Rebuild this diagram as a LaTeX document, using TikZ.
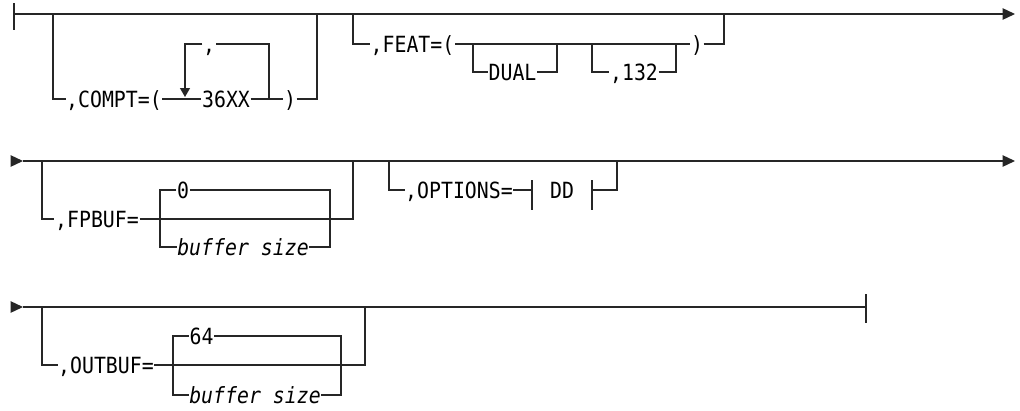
\documentclass[tikz,border=0pt]{standalone}
\usepackage{fontspec}
\newfontfamily\rrmono[FakeStretch=0.89]{DejaVu Sans Mono}
\usetikzlibrary{arrows.meta}
\tikzset{
  rail/.style={line width=1.3pt, draw=black!85, line cap=butt},
  txt/.style={font=\rrmono\fontsize{22.3}{26}\selectfont, inner xsep=0.5pt, inner ysep=0pt,
              text height=16.2pt, text depth=0pt},
  itxt/.style={txt, font=\rrmono\fontsize{22.3}{26}\selectfont\itshape},
  endarrow/.style={-{Triangle[length=12.5pt,width=11.5pt]}},
  looparrow/.style={-{Triangle[length=9pt,width=10pt]}}
}
\begin{document}
\begin{tikzpicture}[x=1pt,y=-1pt]
\useasboundingbox (0,0) rectangle (1020,410);

% ---------------- Row 1 ----------------
\coordinate (s1) at (14,14);
\coordinate (s1t) at (14,3);
\coordinate (s1b) at (14,30);
\coordinate (e1) at (1015,14);
\draw[rail] (s1t) -- (s1b);
\draw[rail,endarrow] (s1) -- (e1);

% COMPT branch
\coordinate (c1) at (53,14);
\coordinate (c2) at (317,14);
\node[txt] (compt) at (114,99) {,COMPT=(};
\node[txt] (n36) at (226,99) {36XX};
\node[txt] (rp1) at (290,99) {)};
\node[txt] (lcomma) at (209,44) {,};
\coordinate (lr) at (269,99);
\coordinate (ll) at (185,97);
\draw[rail] (c1) |- (compt.west);
\draw[rail] (compt.east) -- (n36.west);
\draw[rail] (n36.east) -- (rp1.west);
\draw[rail] (rp1.east) -| (c2);
\draw[rail] (lr) |- (lcomma.east);
\draw[rail,looparrow] (lcomma.west) -| (ll);

% FEAT branch
\coordinate (f1) at (353,14);
\coordinate (f2) at (724,14);
\node[txt] (feat) at (412.5,44) {,FEAT=(};
\node[txt] (rp2) at (697,44) {)};
\draw[rail] (f1) |- (feat.west);
\draw[rail] (feat.east) -- (rp2.west);
\draw[rail] (rp2.east) -| (f2);
\coordinate (d1) at (473,44);
\coordinate (d2) at (557,44);
\node[txt] (dual) at (512.5,72) {DUAL};
\draw[rail] (d1) |- (dual.west);
\draw[rail] (dual.east) -| (d2);
\coordinate (k1) at (592,44);
\coordinate (k2) at (676,44);
\node[txt] (k132) at (634,72) {,132};
\draw[rail] (k1) |- (k132.west);
\draw[rail] (k132.east) -| (k2);

% ---------------- Row 2 ----------------
\coordinate (a2) at (11,161);
\coordinate (s2) at (23,161);
\coordinate (e2) at (1015,161);
\draw[rail,endarrow] (a2) -- (s2);
\draw[rail,endarrow] (s2) -- (e2);

% FPBUF branch
\coordinate (p1) at (42,161);
\coordinate (p2) at (353,161);
\node[txt] (fpbuf) at (97,219) {,FPBUF=};
\draw[rail] (p1) |- (fpbuf.west);
\draw[rail] (fpbuf.east) -| (p2);
\node[txt] (zero) at (183,190) {0};
\node[itxt] (bs1) at (243,247) {buffer size};
\coordinate (sb1) at (160,247);
\coordinate (sb2) at (330,247);
\draw[rail] (zero.west) -| (sb1) -- (bs1.west);
\draw[rail] (zero.east) -| (sb2) -- (bs1.east);

% OPTIONS branch
\coordinate (o1) at (389,161);
\coordinate (o2) at (617,161);
\node[txt] (opt) at (459,190) {,OPTIONS=};
\coordinate (fl) at (532,190);
\coordinate (fr) at (592,190);
\node[txt] (dd) at (562,190) {DD};
\draw[rail] (o1) |- (opt.west);
\draw[rail] (opt.east) -- (fl);
\draw[rail] ([yshift=10pt]fl) -- ([yshift=-20pt]fl);
\draw[rail] ([yshift=10pt]fr) -- ([yshift=-20pt]fr);
\draw[rail] (fr) -| (o2);

% ---------------- Row 3 ----------------
\coordinate (a3) at (11,307);
\coordinate (s3) at (23,307);
\coordinate (e3) at (866,307);
\draw[rail,endarrow] (a3) -- (s3);
\draw[rail] (s3) -- (e3);
\draw[rail] ([yshift=13pt]e3) -- ([yshift=-16pt]e3);

% OUTBUF branch
\coordinate (q1) at (42,307);
\coordinate (q2) at (365,307);
\node[txt] (outbuf) at (106,365) {,OUTBUF=};
\draw[rail] (q1) |- (outbuf.west);
\draw[rail] (outbuf.east) -| (q2);
\node[txt] (n64) at (201.5,336) {64};
\node[itxt] (bs2) at (255,395) {buffer size};
\coordinate (tb1) at (173,395);
\coordinate (tb2) at (341,395);
\draw[rail] (n64.west) -| (tb1) -- (bs2.west);
\draw[rail] (n64.east) -| (tb2) -- (bs2.east);
\end{tikzpicture}
\end{document}
